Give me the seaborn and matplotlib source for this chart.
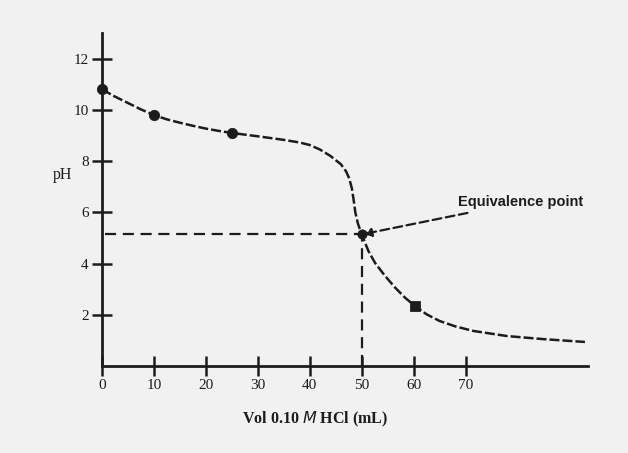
import matplotlib
matplotlib.use("Agg")
import matplotlib.pyplot as plt
import seaborn as sns
import pandas as pd

# Curve
volume = [0, 2.5, 5, 7.5, 10, 12.5, 15, 17.5, 20, 22.5, 25, 30, 35, 38, 40, 42, 44,
          46, 47.0, 47.6, 48.1, 48.45, 48.8, 49.3, 50, 51.3, 52.6, 54.5, 56.5, 58.4, 60.3,
          62.5, 65, 68, 71.5, 78, 85, 93]
ph = [10.8, 10.52, 10.27, 10.02, 9.8, 9.63, 9.5, 9.38, 9.27, 9.18, 9.1, 8.97, 8.83,
      8.73, 8.63, 8.45, 8.2, 7.88, 7.6, 7.33, 6.95, 6.5, 5.98, 5.55, 5.15, 4.49, 4.02,
      3.52, 3.05, 2.66, 2.34, 2.02, 1.76, 1.55, 1.37, 1.17, 1.05, 0.94]

# Marked points
pt_circle_vol = [0, 10, 25]
pt_circle_ph = [10.8, 9.8, 9.1]
pt_square_vol = [60.3]
pt_square_ph = [2.34]
eq_vol = 50
eq_ph = 5.15

x_ticks = [0, 10, 20, 30, 40, 50, 60, 70]
y_ticks = [2, 4, 6, 8, 10, 12]

sns.set_theme(style="white")
plt.rcParams["font.family"] = ["Liberation Serif", "DejaVu Serif"]

bg = "#f1f1f1"
ink = "#1c1c1c"

fig = plt.figure(figsize=(6.28, 4.53), dpi=100, facecolor=bg)
ax = fig.add_axes([0.1624, 0.192, 0.774, 0.735])
ax.set_facecolor(bg)

df = pd.DataFrame({"vol": volume, "ph": ph})
sns.lineplot(data=df, x="vol", y="ph", ax=ax, color=ink, lw=1.8,
             linestyle=(0, (4, 1.2)), sort=True)

sns.scatterplot(x=pt_circle_vol, y=pt_circle_ph, ax=ax, color=ink, s=55,
                marker="o", edgecolor=ink, zorder=5, clip_on=False)
sns.scatterplot(x=pt_square_vol, y=pt_square_ph, ax=ax, color=ink, s=50,
                marker="s", edgecolor=ink, zorder=5)
sns.scatterplot(x=[eq_vol], y=[eq_ph], ax=ax, color=ink, s=45,
                marker="o", edgecolor=ink, zorder=5)

# dashed guide lines to the equivalence point
ax.plot([0.6, eq_vol], [eq_ph, eq_ph], color=ink, lw=1.6, linestyle=(0, (5, 3)))
ax.plot([eq_vol, eq_vol], [0, eq_ph], color=ink, lw=1.6, linestyle=(0, (5, 3)))

ax.annotate("Equivalence point", xy=(eq_vol + 0.3, eq_ph), xytext=(68.6, 6.4),
            fontsize=10.5, fontweight="bold", family=["Liberation Sans", "DejaVu Sans"],
            color=ink, va="center", ha="left",
            arrowprops=dict(arrowstyle="-|>", color=ink, lw=1.6,
                            linestyle=(0, (4, 2)), mutation_scale=12,
                            shrinkA=2, shrinkB=0))

ax.set_xlim(0, 93.6)
ax.set_ylim(0, 13)
ax.set_xticks(x_ticks)
ax.set_xticklabels([str(v) for v in x_ticks])
ax.set_yticks(y_ticks)
ax.set_yticklabels([str(v) for v in y_ticks])
ax.xaxis.get_major_ticks()[0].tick1line.set_visible(False)

sns.despine(ax=ax)
for s in ["left", "bottom"]:
    ax.spines[s].set_linewidth(2.0)
    ax.spines[s].set_color(ink)

ax.tick_params(axis="both", direction="inout", length=15, width=1.8,
               color=ink, labelcolor=ink, labelsize=11, pad=2,
               left=True, bottom=True)

ax.set_xlabel("Vol 0.10 $\\mathit{M}$ HCl (mL)", fontsize=11.5,
              fontweight="bold", color=ink)
ax.xaxis.set_label_coords(0.438, -0.13)
ax.set_ylabel("pH", fontsize=11.5, rotation=0, color=ink)
ax.yaxis.set_label_coords(-0.082, 0.55)

fig.savefig("out.png", dpi=100, facecolor=bg)
